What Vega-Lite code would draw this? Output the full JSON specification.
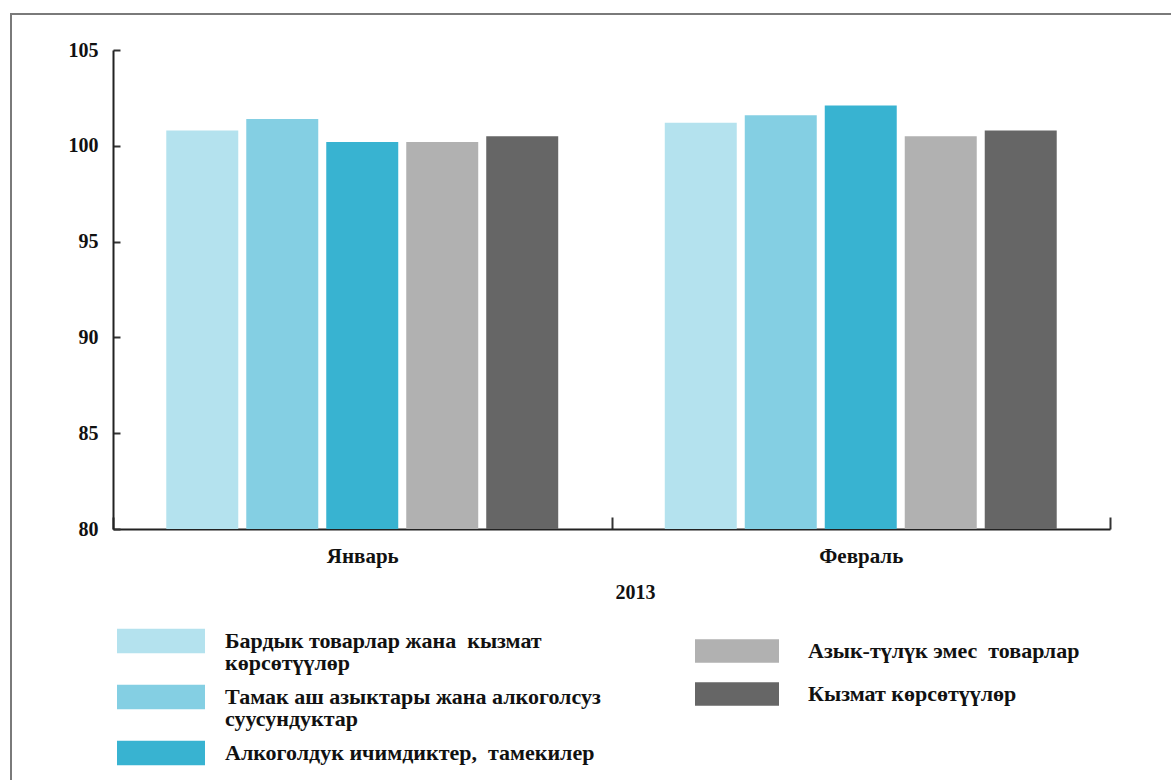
{
  "$schema": "https://vega.github.io/schema/vega-lite/v6.json",
  "width": 1163,
  "height": 769,
  "autosize": {"type": "none"},
  "padding": {"left": 11, "top": 14, "right": -3, "bottom": -3},
  "background": "white",
  "config": {
    "view": {"stroke": "#7a7a7a", "strokeWidth": 2},
    "font": "Liberation Serif, Times New Roman, serif",
    "style": {"guide-label": {"lineHeight": 22}}
  },
  "data": {
    "values": [
      {"month": "Январь", "series": "Бардык товарлар жана  кызмат\nкөрсөтүүлөр", "value": 100.8},
      {"month": "Январь", "series": "Тамак аш азыктары жана алкоголсуз\n суусундуктар", "value": 101.4},
      {"month": "Январь", "series": "Алкоголдук ичимдиктер,  тамекилер", "value": 100.2},
      {"month": "Январь", "series": "Азык-түлүк эмес  товарлар", "value": 100.2},
      {"month": "Январь", "series": " Кызмат көрсөтүүлөр", "value": 100.5},
      {"month": "Февраль", "series": "Бардык товарлар жана  кызмат\nкөрсөтүүлөр", "value": 101.2},
      {"month": "Февраль", "series": "Тамак аш азыктары жана алкоголсуз\n суусундуктар", "value": 101.6},
      {"month": "Февраль", "series": "Алкоголдук ичимдиктер,  тамекилер", "value": 102.1},
      {"month": "Февраль", "series": "Азык-түлүк эмес  товарлар", "value": 100.5},
      {"month": "Февраль", "series": " Кызмат көрсөтүүлөр", "value": 100.8}
    ]
  },
  "encoding": {
    "x": {
      "field": "month",
      "type": "nominal",
      "sort": ["Январь", "Февраль"],
      "scale": {"range": [102, 1099], "paddingInner": 0, "paddingOuter": 0},
      "axis": {
        "offset": -254,
        "title": "2013",
        "titleX": 624,
        "titleY": 69,
        "titleAlign": "center",
        "titleBaseline": "alphabetic",
        "titleFont": "Liberation Serif, Times New Roman, serif",
        "titleFontSize": 20,
        "titleFontWeight": "bold",
        "titleColor": "#111",
        "labelAngle": 0,
        "labelFont": "Liberation Serif, Times New Roman, serif",
        "labelFontSize": 21,
        "labelFontWeight": "bold",
        "labelColor": "#111",
        "labelBaseline": "top",
        "labelPadding": 28,
        "tickBand": "extent",
        "tickSize": -12,
        "tickWidth": 2,
        "tickColor": "#333",
        "domainColor": "#222",
        "domainWidth": 2
      }
    },
    "xOffset": {
      "field": "series",
      "type": "nominal",
      "sort": null,
      "scale": {
        "domain": [
          "Бардык товарлар жана  кызмат\nкөрсөтүүлөр",
          "Тамак аш азыктары жана алкоголсуз\n суусундуктар",
          "Алкоголдук ичимдиктер,  тамекилер",
          "Азык-түлүк эмес  товарлар",
          " Кызмат көрсөтүүлөр"
        ],
        "paddingInner": 0.1,
        "paddingOuter": 0.666
      }
    },
    "y": {
      "field": "value",
      "type": "quantitative",
      "scale": {"domain": [80, 105], "range": [515, 36], "nice": false, "zero": false},
      "axis": {
        "offset": -102,
        "title": null,
        "values": [80, 85, 90, 95, 100, 105],
        "grid": false,
        "labelFont": "Liberation Serif, Times New Roman, serif",
        "labelFontSize": 20,
        "labelFontWeight": "bold",
        "labelColor": "#111",
        "labelPadding": 22,
        "tickSize": -7,
        "tickWidth": 2,
        "tickColor": "#333",
        "domainColor": "#222",
        "domainWidth": 2
      }
    },
    "y2": {"datum": 80}
  },
  "layer": [
    {
      "transform": [{"filter": {"field": "series", "oneOf": [
        "Бардык товарлар жана  кызмат\nкөрсөтүүлөр",
        "Тамак аш азыктары жана алкоголсуз\n суусундуктар",
        "Алкоголдук ичимдиктер,  тамекилер"
      ]}}],
      "mark": {"type": "bar"},
      "encoding": {
        "color": {
          "field": "series",
          "type": "nominal",
          "sort": null,
          "scale": {
            "domain": [
              "Бардык товарлар жана  кызмат\nкөрсөтүүлөр",
              "Тамак аш азыктары жана алкоголсуз\n суусундуктар",
              "Алкоголдук ичимдиктер,  тамекилер"
            ],
            "range": ["#b4e2ee", "#84cfe3", "#38b3d1"]
          },
          "legend": {
            "orient": "none",
            "legendX": 106,
            "legendY": 605,
            "title": null,
            "padding": 0,
            "direction": "vertical",
            "symbolType": "M-1,-0.56H3V0.56H-1Z",
            "symbolSize": 1936,
            "symbolStrokeWidth": 0,
            "symbolOpacity": 1,
            "labelOffset": 64,
            "labelFont": "Liberation Serif, Times New Roman, serif",
            "labelFontSize": 22,
            "labelFontWeight": "bold",
            "labelColor": "#111",
            "labelLimit": 600,
            "labelExpr": "split(replace(datum.label, regexp(' ', 'g'), '\u00a0'), '\\n')",
            "rowPadding": 1
          }
        }
      }
    },
    {
      "transform": [{"filter": {"field": "series", "oneOf": [
        "Азык-түлүк эмес  товарлар",
        " Кызмат көрсөтүүлөр"
      ]}}],
      "mark": {"type": "bar"},
      "encoding": {
        "color": {
          "field": "series",
          "type": "nominal",
          "sort": null,
          "scale": {
            "domain": ["Азык-түлүк эмес  товарлар", " Кызмат көрсөтүүлөр"],
            "range": ["#b1b1b1", "#666666"]
          },
          "legend": {
            "orient": "none",
            "legendX": 684,
            "legendY": 616,
            "title": null,
            "padding": 0,
            "direction": "vertical",
            "symbolType": "M-1,-0.56H3V0.56H-1Z",
            "symbolSize": 1764,
            "symbolStrokeWidth": 0,
            "symbolOpacity": 1,
            "labelOffset": 71,
            "labelFont": "Liberation Serif, Times New Roman, serif",
            "labelFontSize": 22,
            "labelFontWeight": "bold",
            "labelColor": "#111",
            "labelLimit": 600,
            "labelExpr": "replace(datum.label, regexp(' ', 'g'), '\u00a0')",
            "rowPadding": 10
          }
        }
      }
    }
  ],
  "resolve": {"scale": {"color": "independent"}, "legend": {"color": "independent"}}
}
